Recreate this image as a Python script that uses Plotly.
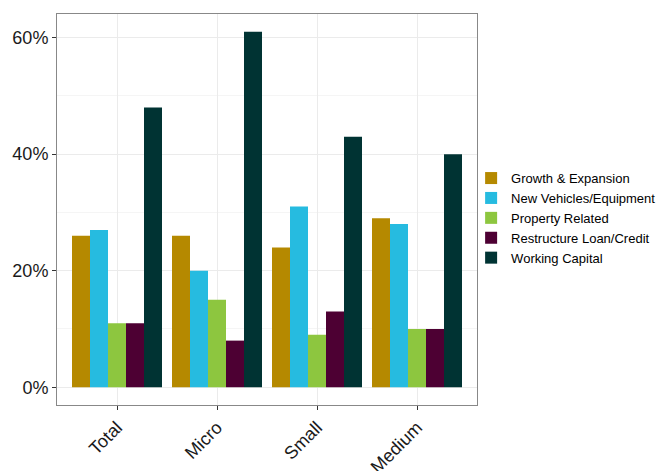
import plotly.graph_objects as go

categories = ["Total", "Micro", "Small", "Medium"]
series_names = ["Growth & Expansion", "New Vehicles/Equipment", "Property Related",
                "Restructure Loan/Credit", "Working Capital"]
growth = [26, 26, 24, 29]
vehicles = [27, 20, 31, 28]
property_rel = [11, 15, 9, 10]
restructure = [11, 8, 13, 10]
working = [48, 61, 43, 40]
colors = ["#B58900", "#26BBE0", "#8DC63F", "#4D0033", "#003333"]
y_ticks = [0, 20, 40, 60]

series_values = [growth, vehicles, property_rel, restructure, working]

fig = go.Figure()
for name, vals, col in zip(series_names, series_values, colors):
    fig.add_trace(go.Bar(x=categories, y=vals, name=name,
                         marker=dict(color=col, line=dict(width=0))))

font_family = "Liberation Sans, Arial, sans-serif"
fig.update_layout(
    barmode="group", bargap=0.1, bargroupgap=0,
    width=658, height=463,
    margin=dict(l=49, r=189, t=6, b=66, autoexpand=False),
    paper_bgcolor="white", plot_bgcolor="white",
    font=dict(family=font_family, color="#1a1a1a"),
    legend=dict(x=0.986, xanchor="left", y=0.478, yanchor="middle",
                font=dict(size=13, color="#000000"), tracegroupgap=0,
                itemwidth=30, bgcolor="rgba(0,0,0,0)"),
    showlegend=True,
)
fig.update_xaxes(
    range=[-0.6, 3.6], showgrid=True, gridcolor="#ebebeb", gridwidth=1,
    ticks="outside", ticklen=4, tickcolor="#333333", tickwidth=1,
    tickangle=-45, tickfont=dict(size=18, color="#1a1a1a"),
    showline=True, linecolor="#888888", linewidth=1, mirror=True,
    zeroline=False,
)
fig.update_yaxes(
    range=[-3.05, 64.05], tickvals=y_ticks, ticktext=[f"{v}%" for v in y_ticks],
    showgrid=True, gridcolor="#ebebeb", gridwidth=1,
    minor=dict(tickvals=[10, 30, 50], showgrid=True, gridcolor="#f5f5f5", gridwidth=1, ticks=""),
    ticks="outside", ticklen=4, tickcolor="#333333", tickwidth=1,
    tickfont=dict(size=18, color="#1a1a1a"),
    showline=True, linecolor="#888888", linewidth=1, mirror=True,
    zeroline=False,
)

fig.write_html("out.html")
